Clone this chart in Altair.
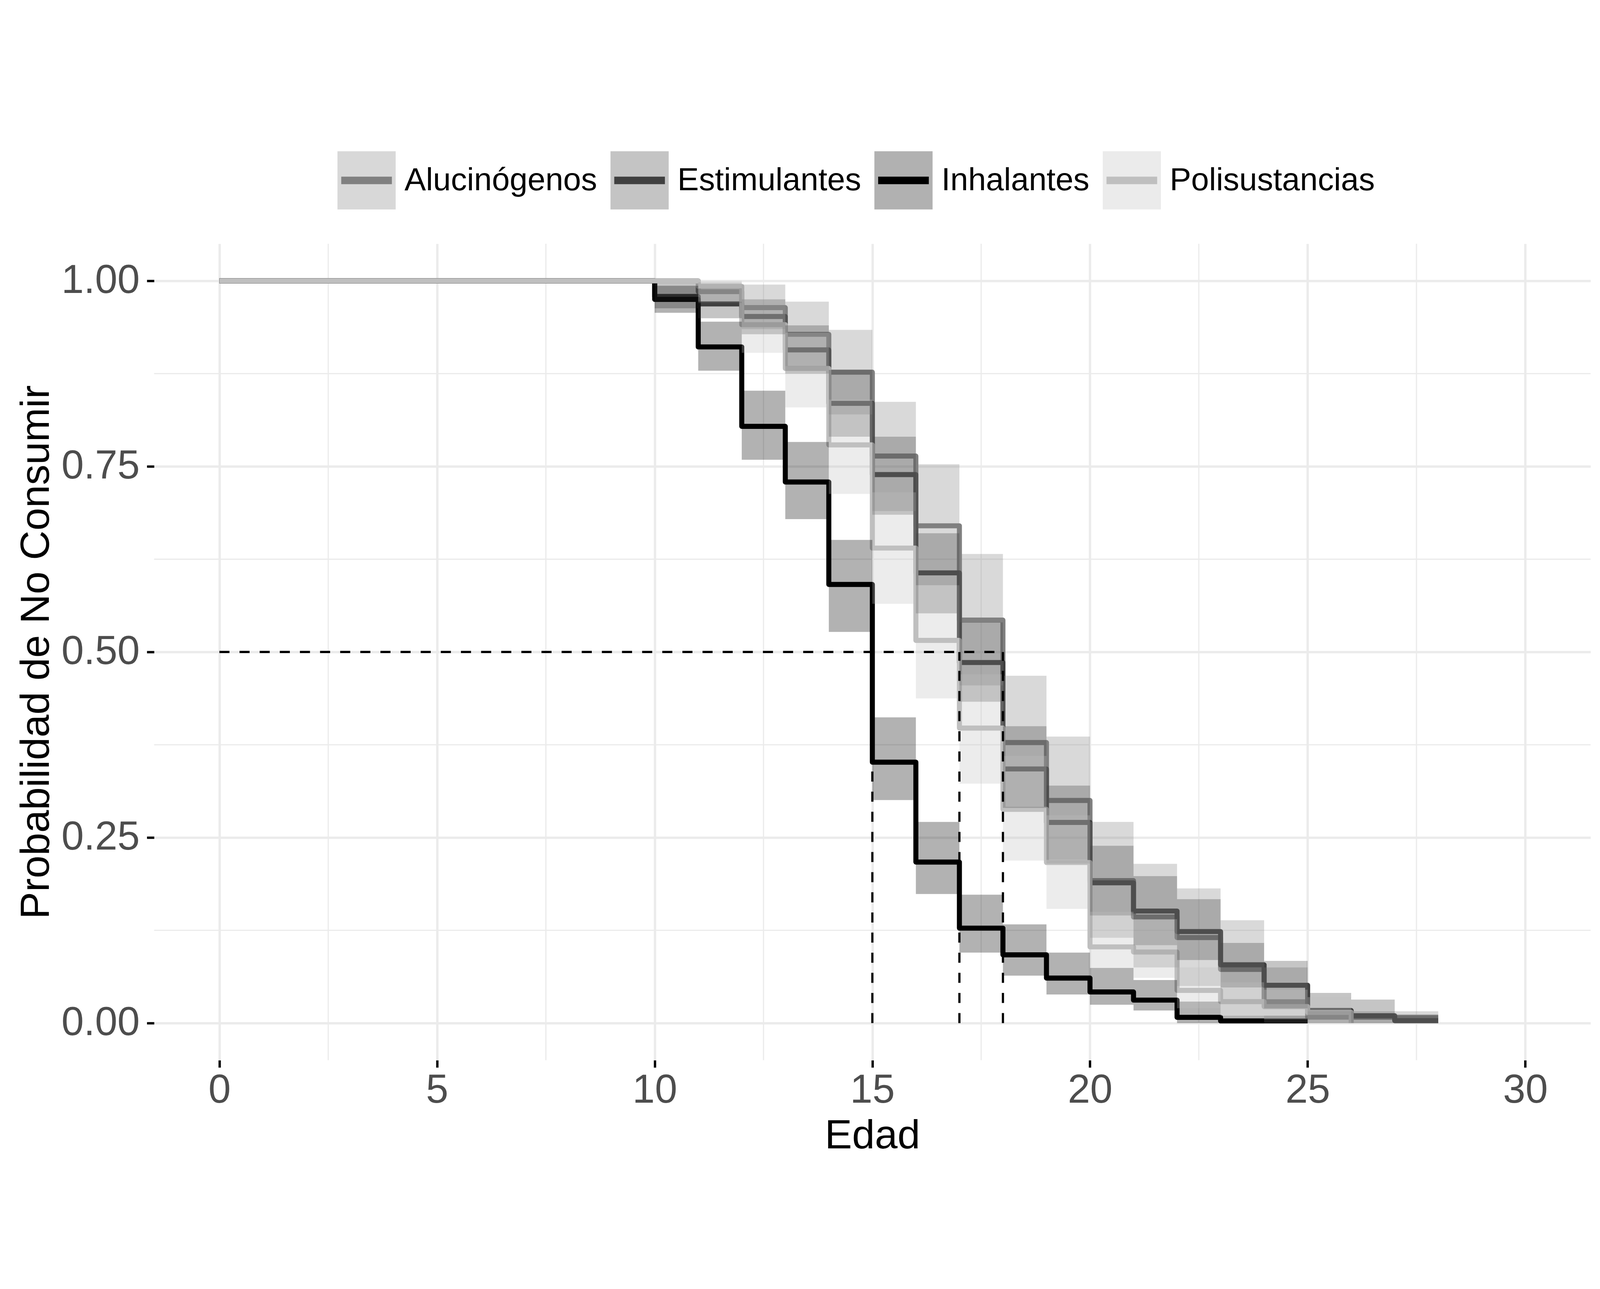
import altair as alt
import pandas as pd

# ---------------- data ----------------
groups = ["Alucinógenos", "Estimulantes", "Inhalantes", "Polisustancias"]
line_colors = ["#808080", "#404040", "#000000", "#bfbfbf"]

# Kaplan-Meier step curves: times where the value changes (last = end of curve)
aluc_t = [0, 11, 12, 13, 14, 15, 16, 17, 18, 19, 20, 21, 22, 23, 24, 25, 28]
aluc_s = [1.0, 0.9855, 0.964, 0.928, 0.877, 0.764, 0.670, 0.543, 0.378, 0.300,
          0.192, 0.143, 0.1153, 0.0724, 0.0287, 0.008, 0.008]
aluc_hi = [0.998, 0.995, 0.972, 0.934, 0.837, 0.753, 0.632, 0.468, 0.386, 0.271,
           0.2146, 0.1815, 0.1386, 0.075, 0.016]
aluc_lo = [0.970, 0.935, 0.885, 0.820, 0.690, 0.590, 0.455, 0.290, 0.215, 0.115,
           0.075, 0.050, 0.010, 0.0, 0.0]

estim_t = [0, 10, 11, 12, 13, 14, 15, 16, 17, 18, 19, 20, 21, 22, 23, 24, 25, 26, 27, 28]
estim_s = [1.0, 0.979, 0.969, 0.952, 0.907, 0.835, 0.739, 0.6066, 0.4858, 0.3424,
           0.2704, 0.189, 0.151, 0.1234, 0.0786, 0.051, 0.017, 0.010, 0.0033, 0.0033]
estim_hi = [0.9965, 0.990, 0.975, 0.940, 0.880, 0.790, 0.660, 0.540, 0.400, 0.320,
            0.239, 0.198, 0.167, 0.108, 0.0838, 0.0407, 0.0318, 0.010]
estim_lo = [0.963, 0.9496, 0.928, 0.875, 0.790, 0.685, 0.552, 0.433, 0.290, 0.220,
            0.145, 0.105, 0.085, 0.048, 0.020, 0.0, 0.0, 0.0]

inhal_t = [0, 10, 11, 12, 13, 14, 15, 16, 17, 18, 19, 20, 21, 22, 23, 25]
inhal_s = [1.0, 0.975, 0.911, 0.804, 0.729, 0.591, 0.3516, 0.217, 0.128, 0.092,
           0.0607, 0.042, 0.031, 0.0078, 0.003, 0.003]
inhal_hi = [0.9935, 0.945, 0.852, 0.783, 0.651, 0.412, 0.271, 0.173, 0.133, 0.095,
            0.0744, 0.058, 0.029, 0.010]
inhal_lo = [0.957, 0.879, 0.759, 0.679, 0.527, 0.3005, 0.174, 0.095, 0.064, 0.0386,
            0.0248, 0.017, 0.0, 0.0]

poli_t = [0, 11, 12, 13, 14, 15, 16, 17, 18, 19, 20, 21, 22, 23, 24, 25, 26]
poli_s = [1.0, 0.9927, 0.941, 0.882, 0.779, 0.640, 0.5156, 0.3975, 0.288, 0.2164,
          0.1027, 0.0958, 0.0441, 0.029, 0.0223, 0.0145, 0.0]
poli_hi = [1.0, 0.975, 0.930, 0.840, 0.715, 0.590, 0.470, 0.360, 0.280, 0.150,
           0.140, 0.075, 0.055, 0.045, 0.035]
poli_lo = [0.972, 0.903, 0.8295, 0.713, 0.565, 0.4375, 0.3226, 0.219, 0.154, 0.074,
           0.061, 0.020, 0.010, 0.005, 0.0]

# median survival ages (dashed guides)
median_ages = [15, 17, 18]
median_level = 0.5

x_ticks = [0, 5, 10, 15, 20, 25, 30]
x_minor = [2.5, 7.5, 12.5, 17.5, 22.5, 27.5]
y_ticks = [0.0, 0.25, 0.5, 0.75, 1.0]
y_minor = [0.125, 0.375, 0.625, 0.875]

series = [
    (groups[0], aluc_t, aluc_s, aluc_hi, aluc_lo),
    (groups[1], estim_t, estim_s, estim_hi, estim_lo),
    (groups[2], inhal_t, inhal_s, inhal_hi, inhal_lo),
    (groups[3], poli_t, poli_s, poli_hi, poli_lo),
]

# ---------------- styling ----------------
FONT = "Liberation Sans"
W, H = 4567, 2596
LINE_W = 16
xs = alt.Scale(domain=[-1.5, 31.5], nice=False, zero=False)
ys = alt.Scale(domain=[-0.05, 1.05], nice=False, zero=False)

xaxis = alt.Axis(values=x_ticks, format="d", title="Edad",
                 labelFontSize=128, labelColor="#4d4d4d", labelPadding=11,
                 labelFlush=False, labelOverlap=False, labelFont=FONT,
                 labelLimit=3000,
                 tickColor="black", tickSize=23, tickWidth=7.5, domain=False,
                 grid=True, gridColor="#ebebeb", gridWidth=7.5,
                 titleFontSize=130, titleColor="black", titleFontWeight="normal",
                 titleFont=FONT, titleY=280, titleBaseline="alphabetic")
yaxis = alt.Axis(values=y_ticks, format=".2f", title="Probabilidad de No Consumir",
                 labelFontSize=128, labelColor="#4d4d4d", labelPadding=23,
                 labelFont=FONT, labelOverlap=False, labelLimit=3000,
                 tickColor="black", tickSize=23, tickWidth=7.5, domain=False,
                 grid=True, gridColor="#ebebeb", gridWidth=7.5,
                 titleFontSize=130, titleColor="black", titleFontWeight="normal",
                 titleFont=FONT, titleX=-335, titleBaseline="alphabetic",
                 titleAngle=270, titleLimit=5000)

# legend: a translucent square key with a thick, slightly inset line over it
KEY = 185
LX, LY = 575, -302
common_leg = dict(title=None, orient="none", legendX=LX, legendY=LY,
                  direction="horizontal", symbolSize=KEY * KEY,
                  labelFontSize=102, labelFont=FONT, labelOffset=20,
                  columnPadding=10, padding=0, labelLimit=3000)
fill_legend = alt.Legend(symbolType="square", symbolStrokeColor="transparent",
                         symbolStrokeWidth=LINE_W, labelColor="black", zindex=1,
                         **common_leg)
# thin closed bar stroked at 16px -> ~24px thick key line, inset ~11px;
# the corner points keep the symbol bounds identical to the square keys
key_line_path = ("M-1,-1L-1,-1M1,1L1,1"
                 "M-0.784,-0.043L0.784,-0.043L0.784,0.043L-0.784,0.043Z")
stroke_legend = alt.Legend(symbolType=key_line_path,
                           symbolStrokeWidth=LINE_W, labelOpacity=0, zindex=2,
                           **common_leg)

layers = []

# minor grid lines
layers.append(alt.Chart(pd.DataFrame({"v": x_minor})).mark_rule(
    color="#ebebeb", strokeWidth=3.8).encode(
    x=alt.X("v:Q", scale=xs, axis=xaxis)))
layers.append(alt.Chart(pd.DataFrame({"v": y_minor})).mark_rule(
    color="#ebebeb", strokeWidth=3.8).encode(
    y=alt.Y("v:Q", scale=ys, axis=yaxis)))

# survival step lines
for g, ts, ss, hi, lo in series:
    df = pd.DataFrame({"group": g, "t": ts, "s": ss})
    layers.append(alt.Chart(df).mark_line(
        interpolate="step-after", strokeWidth=LINE_W, strokeJoin="round").encode(
        x=alt.X("t:Q", scale=xs, axis=xaxis),
        y=alt.Y("s:Q", scale=ys, axis=yaxis),
        stroke=alt.Stroke("group:N", scale=alt.Scale(range=line_colors),
                          legend=stroke_legend)))

# confidence bands (drawn over the lines, as in the original)
for g, ts, ss, hi, lo in series:
    df = pd.DataFrame({"grupo": g, "t": ts[1:],
                       "lo": lo + [lo[-1]], "hi": hi + [hi[-1]]})
    layers.append(alt.Chart(df).mark_area(
        interpolate="step-after", opacity=0.3).encode(
        x=alt.X("t:Q", scale=xs, axis=xaxis),
        y=alt.Y("lo:Q", scale=ys, axis=yaxis),
        y2="hi:Q",
        fill=alt.Fill("grupo:N", scale=alt.Scale(range=line_colors),
                      legend=fill_legend)))

# dashed median guides
hdf = pd.DataFrame({"x0": [0], "x1": [max(median_ages)], "y": [median_level]})
layers.append(alt.Chart(hdf).mark_rule(
    color="black", strokeWidth=7, strokeDash=[32, 32]).encode(
    x=alt.X("x0:Q", scale=xs, axis=xaxis), x2="x1:Q",
    y=alt.Y("y:Q", scale=ys, axis=yaxis)))
vdf = pd.DataFrame({"x": median_ages, "y0": [0.0] * len(median_ages),
                    "y1": [median_level] * len(median_ages)})
layers.append(alt.Chart(vdf).mark_rule(
    color="black", strokeWidth=7, strokeDash=[32, 32]).encode(
    x=alt.X("x:Q", scale=xs, axis=xaxis),
    y=alt.Y("y0:Q", scale=ys, axis=yaxis), y2="y1:Q"))

chart = alt.layer(*layers).properties(
    width=W, height=H,
    autosize=alt.AutoSizeParams(type="none"),
    padding={"left": 480, "top": 370, "right": 20, "bottom": 300},
    background="white",
).configure(font=FONT).configure_view(stroke=None)

chart.save("out.html", embed_options={"renderer": "svg", "actions": False})
